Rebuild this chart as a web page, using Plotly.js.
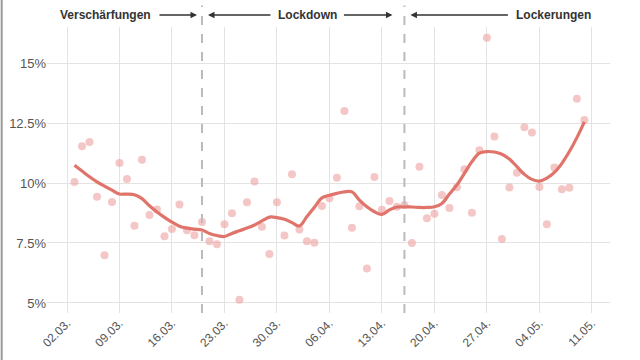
<!DOCTYPE html>
<html><head><meta charset="utf-8">
<script src="https://cdn.plot.ly/plotly-3.0.1.min.js"></script>
<style>html,body{margin:0;padding:0;background:#fff}#c{width:640px;height:360px}</style>
</head><body><div id="c"></div>
<script>
// daily dates 03.03.2020 - 10.05.2020
const startDate = '2020-03-03';
const pointValues = [
 10.04, 11.53, 11.71, 9.43, 6.99, 9.21, 10.83, 10.17, 8.22, 10.97,
 8.67, 8.90, 7.78, 8.08, 9.10, 8.03, 7.82, 8.37, 7.57, 7.45,
 8.28, 8.74, 5.13, 9.20, 10.06, 8.18, 7.04, 9.20, 7.81, 10.36,
 8.06, 7.57, 7.51, 9.04, 9.36, 10.22, 13.00, 8.14, 9.03, 6.44,
 10.25, 8.88, 9.25, 9.01, 9.08, 7.50, 10.68, 8.53, 8.72, 9.50,
 8.96, 9.82, 10.57, 8.76, 11.36, 16.05, 11.94, 7.67, 9.81, 10.43,
 12.32, 12.10, 9.83, 8.28, 10.65, 9.74, 9.80, 13.51, 12.62
];
const trendValues = [
 10.74, 10.50, 10.26, 10.05, 9.87, 9.70, 9.54, 9.54, 9.51, 9.35,
 9.05, 8.79, 8.57, 8.37, 8.20, 8.12, 8.08, 8.04, 7.90, 7.81,
 7.77, 7.90, 8.01, 8.12, 8.25, 8.42, 8.58, 8.56, 8.49, 8.35,
 8.21, 8.60, 8.99, 9.38, 9.49, 9.57, 9.63, 9.63, 9.29, 9.01,
 8.80, 8.69, 8.88, 9.00, 9.00, 9.00, 8.98, 8.98, 9.01, 9.15,
 9.54, 9.92, 10.40, 10.89, 11.24, 11.31, 11.29, 11.20, 11.00, 10.68,
 10.36, 10.15, 10.08, 10.20, 10.44, 10.82, 11.31, 11.89, 12.55
];
const yTickVals = [5, 7.5, 10, 12.5, 15];
const yTickText = ['5%', '7.5%', '10%', '12.5%', '15%'];
const phaseDates = ['2020-03-20', '2020-04-16'];
const phaseLabels = ['Verschärfungen', 'Lockdown', 'Lockerungen'];

function dayList(start, n) {
  const out = [];
  const d0 = new Date(start + 'T00:00:00Z');
  for (let i = 0; i < n; i++) {
    const d = new Date(d0.getTime() + i * 86400000);
    out.push(d.toISOString().slice(0, 10));
  }
  return out;
}
const dates = dayList(startDate, pointValues.length);

const font = 'Liberation Sans, Arial, sans-serif';
const traces = [
  {x: dates, y: pointValues, type: 'scatter', mode: 'markers',
   marker: {size: 8, color: 'rgba(236,160,160,0.6)'}, hoverinfo: 'skip'},
  {x: dates, y: trendValues, type: 'scatter', mode: 'lines',
   line: {color: '#e0746a', width: 3.2, shape: 'spline', smoothing: 1}, hoverinfo: 'skip'}
];

const shapes = phaseDates.map(d => ({type: 'line', xref: 'x', yref: 'paper', x0: d, x1: d, y0: 0, y1: 1.075,
  line: {color: '#bbbbbb', width: 2, dash: 'dash'}}));
shapes.push({type: 'line', xref: 'paper', yref: 'paper', x0: -0.0805, x1: -0.0805, y0: -0.17, y1: 1.1,
  line: {color: '#999999', width: 2}});

const ty = 1.042;
const tf = {family: font, size: 12, color: '#333333', weight: 'bold'};
const arrow = (x, ax) => ({x: x, y: ty, xref: 'x', yref: 'paper', text: '', showarrow: true,
  ax: ax, ay: 0, axref: 'pixel', ayref: 'pixel', arrowhead: 2, arrowsize: 1, arrowwidth: 1.3, arrowcolor: '#333', standoff: 0});
const annotations = [
  {x: phaseDates[0], y: ty, xref: 'x', yref: 'paper', text: '<b>' + phaseLabels[0] + '</b>', showarrow: false,
   xanchor: 'right', yanchor: 'middle', xshift: -49, font: tf},
  {x: '2020-04-02', y: ty, xref: 'x', yref: 'paper', text: '<b>' + phaseLabels[1] + '</b>', showarrow: false,
   xanchor: 'center', yanchor: 'middle', xshift: 8, font: tf},
  {x: phaseDates[1], y: ty, xref: 'x', yref: 'paper', text: '<b>' + phaseLabels[2] + '</b>', showarrow: false,
   xanchor: 'left', yanchor: 'middle', xshift: 110, font: tf},
];
// arrows: heads given via xshift from phase lines
annotations.push(Object.assign(arrow(phaseDates[0], -39), {xshift: -5}));
annotations.push(Object.assign(arrow(phaseDates[0], 64), {xshift: 6}));
annotations.push(Object.assign(arrow(phaseDates[1], -50), {xshift: -12}));
annotations.push(Object.assign(arrow(phaseDates[1], 99), {xshift: 6}));

const layout = {
  width: 640, height: 360,
  margin: {l: 47, r: 30, t: 27, b: 47},
  paper_bgcolor: '#ffffff', plot_bgcolor: '#ffffff',
  showlegend: false,
  font: {family: font, size: 12, color: '#555555'},
  xaxis: {
    type: 'date', range: ['2020-02-28 08:00', '2020-05-13 10:00'],
    tick0: '2020-03-02', dtick: 7 * 86400000, tickformat: '%d.%m.',
    tickangle: -45, showgrid: true, gridcolor: '#e3e3e3', gridwidth: 1,
    zeroline: false, showline: false, ticks: '', tickfont: {size: 12, color: '#555'}
  },
  yaxis: {
    range: [4.583, 16.5], tickvals: yTickVals, ticktext: yTickText,
    showgrid: true, gridcolor: '#e3e3e3', gridwidth: 1, zeroline: false, showline: false,
    ticks: '', tickfont: {size: 13, color: '#555'}
  },
  shapes: shapes,
  annotations: annotations
};
Plotly.newPlot('c', traces, layout, {staticPlot: true, displayModeBar: false});
</script></body></html>
